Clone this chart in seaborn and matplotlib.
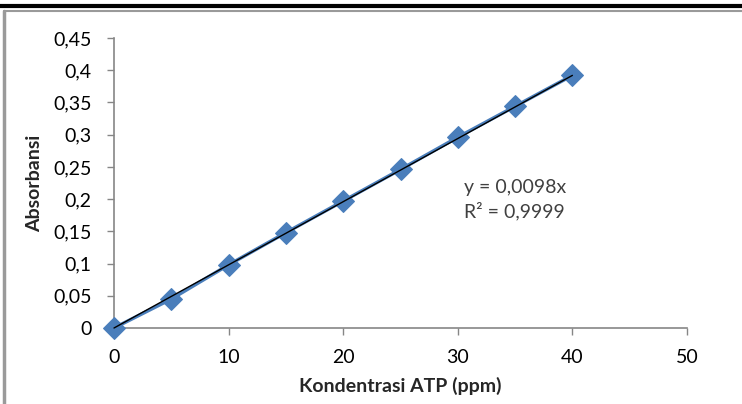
import numpy as np
import pandas as pd
import matplotlib
matplotlib.use("Agg")
import matplotlib.pyplot as plt
import seaborn as sns
from matplotlib.lines import Line2D

# Data
konsentrasi = [0, 5, 10, 15, 20, 25, 30, 35, 40]
absorbansi = [0.0, 0.045, 0.098, 0.148, 0.197, 0.246, 0.296, 0.344, 0.392]
slope = 0.0098
x_ticks = [0, 10, 20, 30, 40, 50]
y_ticks = [0, 0.05, 0.1, 0.15, 0.2, 0.25, 0.3, 0.35, 0.4, 0.45]
y_tick_labels = ["0", "0,05", "0,1", "0,15", "0,2", "0,25", "0,3", "0,35", "0,4", "0,45"]
eq_text = "y = 0,0098x\nR² = 0,9999"

df = pd.DataFrame({"x": konsentrasi, "y": absorbansi})
df["fit"] = slope * df["x"]

sns.set_theme(style="white")
plt.rcParams['font.family'] = ['Lato', 'DejaVu Sans']

fig = plt.figure(figsize=(7.42, 4.04), dpi=100)
ax = fig.add_axes([114/742, 76/404, (687-114)/742, (328-38)/404])

blue = "#4A7EBB"
sns.lineplot(data=df, x="x", y="y", ax=ax, color=blue, lw=2.5, marker="D",
             markersize=11, markeredgecolor=blue, markerfacecolor=blue, zorder=3)
sns.lineplot(data=df, x="x", y="fit", ax=ax, color="black", lw=1.0, zorder=4)

ax.set_xlim(0, 50)
ax.set_ylim(0, 0.45)
ax.set_xticks(x_ticks)
ax.set_xticklabels([str(t) for t in x_ticks])
ax.set_yticks(y_ticks)
ax.set_yticklabels(y_tick_labels)
ax.tick_params(axis="both", labelsize=14, labelcolor="black", length=5, width=1,
               direction="out", bottom=True, left=True)
ax.tick_params(axis="x", color="#868686", pad=10)
ax.tick_params(axis="y", color="#868686", pad=11)
for s in ["top", "right"]:
    ax.spines[s].set_visible(False)
for s in ["left", "bottom"]:
    ax.spines[s].set_color("#868686")
    ax.spines[s].set_linewidth(1.2)

ax.set_xlabel("Kondentrasi ATP (ppm)", fontsize=14, fontweight="bold", labelpad=8)
ax.set_ylabel("Absorbansi", fontsize=14, fontweight="bold", labelpad=7)
ax.text(30.5, 0.199, eq_text, fontsize=14, va="center", ha="left", color="#404040",
        linespacing=1.35)
for ln in ax.lines:
    ln.set_clip_on(False)

# frame lines
fig.add_artist(Line2D([0, 1], [1 - 6/404, 1 - 6/404], color="black", lw=3, transform=fig.transFigure))
fig.add_artist(Line2D([4/742, 4/742], [0, 1 - 11/404], color="#9a9a9a", lw=2.5, transform=fig.transFigure))
fig.add_artist(Line2D([4/742, 1], [1 - 11/404, 1 - 11/404], color="#9a9a9a", lw=1.5, transform=fig.transFigure))

fig.savefig("out.png", dpi=100)
